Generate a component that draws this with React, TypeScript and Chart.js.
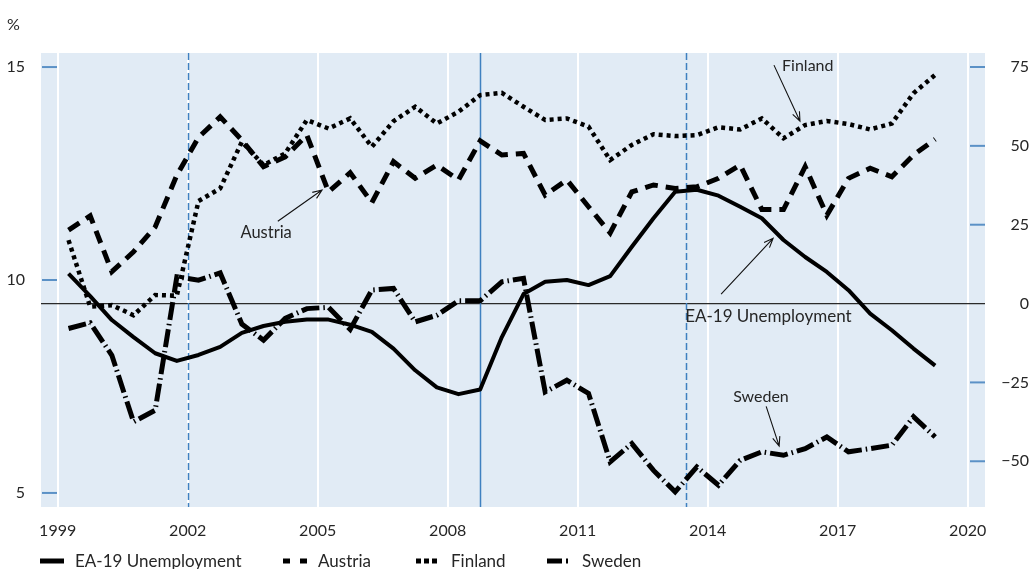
import React, { useEffect, useRef } from 'react';
import { Chart, registerables } from 'chart.js';

Chart.register(...registerables);

// Half-year observations (mid-points of H1 / H2)
const periods = [
  1999.25, 1999.75, 2000.25, 2000.75, 2001.25, 2001.75, 2002.25, 2002.75, 2003.25, 2003.75,
  2004.25, 2004.75, 2005.25, 2005.75, 2006.25, 2006.75, 2007.25, 2007.75, 2008.25, 2008.75,
  2009.25, 2009.75, 2010.25, 2010.75, 2011.25, 2011.75, 2012.25, 2012.75, 2013.25, 2013.75,
  2014.25, 2014.75, 2015.25, 2015.75, 2016.25, 2016.75, 2017.25, 2017.75, 2018.25, 2018.75,
  2019.25,
];

// Left axis (%)
const eaUnemployment = [
  10.15, 9.62, 9.06, 8.66, 8.28, 8.10, 8.24, 8.43, 8.76, 8.92,
  9.02, 9.07, 9.07, 8.95, 8.78, 8.39, 7.88, 7.48, 7.32, 7.43,
  8.66, 9.67, 9.96, 10.0, 9.88, 10.09, 10.78, 11.45, 12.07, 12.12,
  11.98, 11.72, 11.45, 10.94, 10.54, 10.19, 9.76, 9.21, 8.82, 8.39,
  7.99,
];

// Right axis
const austria = [
  23.3, 27.8, 10.1, 16.4, 24.3, 40.7, 52.7, 59.2, 51.8, 43.4,
  46.5, 53.4, 35.4, 41.5, 32.0, 45.0, 39.7, 43.9, 39.2, 51.6,
  47.1, 47.6, 34.4, 39.2, 30.7, 22.4, 35.4, 37.6, 36.5, 37.0,
  39.7, 43.9, 29.8, 29.8, 43.4, 28.0, 39.7, 42.9, 40.2, 47.1,
  52.1,
];

const finland = [
  20.1, -1.0, -0.5, -3.7, 2.7, 2.5, 32.5, 36.5, 51.3, 43.9,
  47.6, 58.2, 55.5, 58.7, 49.7, 57.8, 62.4, 57.1, 60.8, 66.1,
  66.8, 62.4, 58.2, 58.7, 56.1, 45.5, 50.3, 53.7, 53.1, 53.4,
  55.9, 55.2, 58.7, 52.4, 56.6, 57.9, 56.9, 55.2, 57.1, 66.7,
  72.5,
];

const sweden = [
  -7.9, -6.1, -16.4, -37.5, -33.8, 8.5, 7.4, 9.7, -6.5, -11.6,
  -4.7, -1.6, -1.2, -8.2, 4.3, 4.8, -5.8, -3.7, 0.9, 0.9,
  6.9, 8.0, -28.0, -24.3, -28.5, -50.2, -44.4, -52.9, -59.7, -51.8,
  -57.6, -49.7, -47.0, -48.1, -46.0, -42.3, -47.0, -46.0, -44.9, -35.9,
  -42.3,
];

const yearTicks = [1999, 2002, 2005, 2008, 2011, 2014, 2017, 2020];
const leftTicks = [5, 10, 15];
const rightTicks = [75, 50, 25, 0, -25, -50];

const eventDates = [2002, 2008.75, 2013.5];
const eventDashed = [true, false, true];

const noteLabels = ['Finland', 'Austria', 'EA-19 Unemployment', 'Sweden'];
const noteTextX = [2016.31, 2003.81, 2013.48, 2015.23];
const noteTextY = [75.3, 22.4, -4.2, -29.6];
const noteAlign = ['center', 'center', 'left', 'center'];
const noteSize = [16, 16.5, 17, 16];
const arrowFromX = [2015.53, 2004.08, 2014.31, 2015.35];
const arrowFromY = [75.6, 26.1, 3.0, -32.6];
const arrowToX = [2016.13, 2005.1, 2015.51, 2015.65];
const arrowToY = [57.8, 36.0, 20.7, -45.2];

const seriesNames = ['EA-19 Unemployment', 'Austria', 'Finland', 'Sweden'];

const FONT = 'Lato, "Open Sans", sans-serif';
const TEXT = '#262626';
const PLOT_BG = '#e1ebf5';
const BLUE = '#3f80c0';
const TICK_BLUE = '#5b91c6';

const toPoints = (vals: number[]) => vals.map((v, i) => ({ x: periods[i], y: v }));

const decorPlugin = {
  id: 'decor',
  beforeDraw(chart: any) {
    const { ctx, chartArea: a } = chart;
    ctx.save();
    ctx.fillStyle = PLOT_BG;
    ctx.fillRect(a.left, a.top, a.right - a.left, a.bottom - a.top);
    ctx.restore();
  },
  beforeDatasetsDraw(chart: any) {
    const { ctx, chartArea: a, scales } = chart;
    ctx.save();
    eventDates.forEach((d, i) => {
      const px = Math.round(scales.x.getPixelForValue(d)) + 0.5;
      ctx.beginPath();
      ctx.strokeStyle = BLUE;
      ctx.lineWidth = 1.5;
      ctx.setLineDash(eventDashed[i] ? [7, 3] : []);
      ctx.moveTo(px, a.top);
      ctx.lineTo(px, a.bottom);
      ctx.stroke();
    });
    ctx.setLineDash([]);
    ctx.strokeStyle = TICK_BLUE;
    ctx.lineWidth = 2;
    leftTicks.forEach((v) => {
      const py = scales.y.getPixelForValue(v);
      ctx.beginPath();
      ctx.moveTo(a.left + 1, py);
      ctx.lineTo(a.left + 16, py);
      ctx.stroke();
    });
    rightTicks.forEach((v) => {
      if (v === 0) return;
      const py = scales.y2.getPixelForValue(v);
      ctx.beginPath();
      ctx.moveTo(a.right - 15, py);
      ctx.lineTo(a.right, py);
      ctx.stroke();
    });
    ctx.restore();
  },
  afterDatasetsDraw(chart: any) {
    const { ctx, scales } = chart;
    const sx = scales.x;
    const sy = scales.y2;
    ctx.save();
    ctx.fillStyle = TEXT;
    ctx.strokeStyle = '#111';
    ctx.lineWidth = 1.1;
    ctx.textBaseline = 'middle';
    noteLabels.forEach((t, i) => {
      ctx.font = `${noteSize[i]}px ${FONT}`;
      ctx.textAlign = noteAlign[i];
      ctx.fillText(t, sx.getPixelForValue(noteTextX[i]), sy.getPixelForValue(noteTextY[i]));
      const x1 = sx.getPixelForValue(arrowFromX[i]);
      const y1 = sy.getPixelForValue(arrowFromY[i]);
      const x2 = sx.getPixelForValue(arrowToX[i]);
      const y2 = sy.getPixelForValue(arrowToY[i]);
      ctx.beginPath();
      ctx.moveTo(x1, y1);
      ctx.lineTo(x2, y2);
      const ang = Math.atan2(y2 - y1, x2 - x1);
      const hl = 10;
      const spread = 0.38;
      ctx.moveTo(x2 - hl * Math.cos(ang - spread), y2 - hl * Math.sin(ang - spread));
      ctx.lineTo(x2, y2);
      ctx.lineTo(x2 - hl * Math.cos(ang + spread), y2 - hl * Math.sin(ang + spread));
      ctx.stroke();
    });
    ctx.restore();
  },
};

function LegendMarker({ kind }: { kind: number }) {
  const common = { stroke: '#000', strokeWidth: 5 };
  let line;
  if (kind === 0) line = <line x1={0} y1={5} x2={24} y2={5} {...common} />;
  else if (kind === 1) line = <line x1={0} y1={5} x2={24} y2={5} {...common} strokeDasharray="7 10" />;
  else if (kind === 2) line = <line x1={0} y1={5} x2={22} y2={5} {...common} strokeDasharray="5 3" />;
  else line = <line x1={0} y1={5} x2={24} y2={5} {...common} strokeDasharray="15 4 2 10" />;
  return (
    <svg width={24} height={10} style={{ display: 'block' }}>
      {line}
    </svg>
  );
}

const legendLeft = [40, 283, 416, 547];

export default function App() {
  const ref = useRef<HTMLCanvasElement | null>(null);

  useEffect(() => {
    if (!ref.current) return;
    Chart.defaults.font.family = FONT;
    Chart.defaults.color = TEXT;
    const chart = new Chart(ref.current, {
      type: 'line',
      data: {
        datasets: [
          {
            label: seriesNames[0],
            data: toPoints(eaUnemployment),
            yAxisID: 'y',
            borderColor: '#000',
            borderWidth: 4,
            pointRadius: 0,
            borderJoinStyle: 'round',
            tension: 0,
          },
          {
            label: seriesNames[1],
            data: toPoints(austria),
            yAxisID: 'y2',
            borderColor: '#000',
            borderWidth: 5,
            borderDash: [13, 8],
            pointRadius: 0,
            tension: 0,
          },
          {
            label: seriesNames[2],
            data: toPoints(finland),
            yAxisID: 'y2',
            borderColor: '#000',
            borderWidth: 4.5,
            borderDash: [4, 4],
            pointRadius: 0,
            tension: 0,
          },
          {
            label: seriesNames[3],
            data: toPoints(sweden),
            yAxisID: 'y2',
            borderColor: '#000',
            borderWidth: 5,
            borderDash: [18, 4, 1.5, 4],
            pointRadius: 0,
            tension: 0,
          },
        ],
      },
      options: {
        animation: false,
        responsive: false,
        devicePixelRatio: 1,
        layout: { padding: { top: 53, bottom: 32, left: 0, right: 0 } },
        plugins: {
          legend: { display: false },
          tooltip: { enabled: false },
          title: { display: false },
        },
        scales: {
          x: {
            type: 'linear',
            min: 1998.615,
            max: 2020.4,
            afterBuildTicks: (s: any) => {
              s.ticks = yearTicks.map((v) => ({ value: v }));
            },
            afterFit: (s: any) => {
              s.height = 30;
            },
            ticks: {
              callback: (v: any) => String(v),
              padding: 14,
              font: { size: 16 },
              color: TEXT,
              maxRotation: 0,
              autoSkip: false,
            },
            grid: { color: '#ffffff', lineWidth: 2, drawTicks: false },
            border: { display: false },
          },
          y: {
            type: 'linear',
            position: 'left',
            min: 4.67,
            max: 15.33,
            afterBuildTicks: (s: any) => {
              s.ticks = leftTicks.map((v) => ({ value: v }));
            },
            afterFit: (s: any) => {
              s.width = 41;
            },
            ticks: { padding: 16, font: { size: 16 }, color: TEXT, callback: (v: any) => String(v) },
            grid: { display: false, drawTicks: false },
            border: { display: false },
          },
          y2: {
            type: 'linear',
            position: 'right',
            min: -64.5,
            max: 79.44,
            afterBuildTicks: (s: any) => {
              s.ticks = rightTicks.map((v) => ({ value: v }));
            },
            afterFit: (s: any) => {
              s.width = 44;
            },
            ticks: {
              padding: 14,
              crossAlign: 'far',
              font: { size: 16 },
              color: TEXT,
              callback: (v: any) => (v < 0 ? '\u2212' + Math.abs(v) : String(v)),
            },
            grid: {
              drawTicks: false,
              lineWidth: 1.3,
              color: (c: any) => (c.tick && c.tick.value === 0 ? '#2a2a2a' : 'rgba(0,0,0,0)'),
            },
            border: { display: false },
          },
        },
      } as any,
      plugins: [decorPlugin],
    });
    return () => chart.destroy();
  }, []);

  return (
    <div style={{ position: 'absolute', left: 0, top: 0, width: 1029, height: 569, fontFamily: FONT, color: TEXT }}>
      <canvas ref={ref} width={1029} height={569} style={{ display: 'block', width: 1029, height: 569 }} />
      <span style={{ position: 'absolute', left: 7, top: 14, fontSize: 16, lineHeight: '20px' }}>%</span>
      {seriesNames.map((n, i) => (
        <div
          key={n}
          style={{
            position: 'absolute',
            left: legendLeft[i],
            top: 551,
            height: 20,
            display: 'flex',
            alignItems: 'center',
            fontSize: 17,
            lineHeight: '20px',
            whiteSpace: 'nowrap',
          }}
        >
          <LegendMarker kind={i} />
          <span style={{ marginLeft: 11 }}>{n}</span>
        </div>
      ))}
    </div>
  );
}
